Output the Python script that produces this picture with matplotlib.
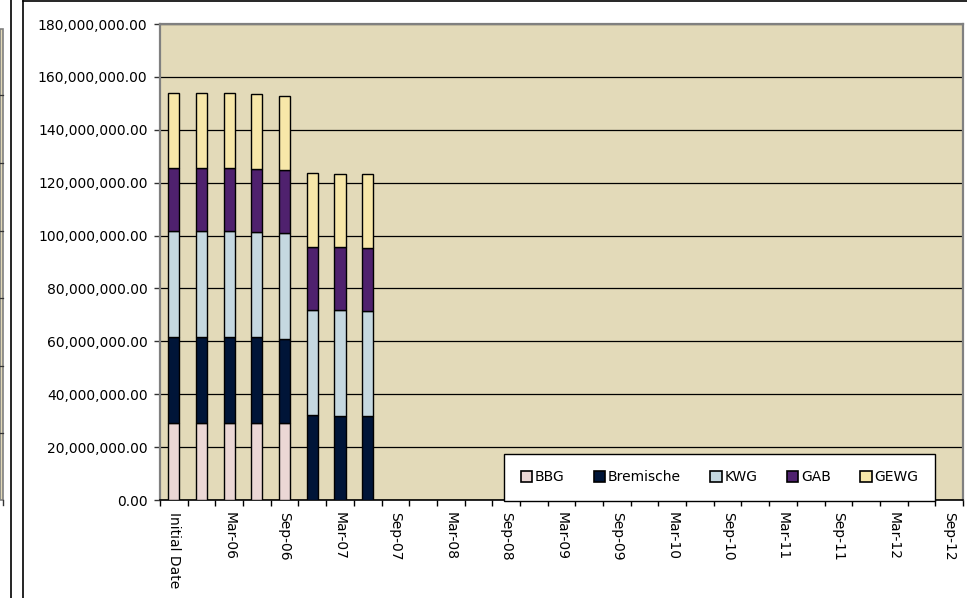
import matplotlib
matplotlib.use("Agg")
import matplotlib.pyplot as plt
from matplotlib.patches import Rectangle
from matplotlib.lines import Line2D
from matplotlib.ticker import FuncFormatter, FixedLocator
import numpy as np

plt.rcParams['font.family'] = ['DejaVu Sans']

categories = ["Initial Date", "Dec-05", "Mar-06", "Jun-06", "Sep-06", "Dec-06",
              "Mar-07", "Jun-07", "Sep-07", "Dec-07", "Mar-08", "Jun-08", "Sep-08",
              "Dec-08", "Mar-09", "Jun-09", "Sep-09", "Dec-09", "Mar-10", "Jun-10",
              "Sep-10", "Dec-10", "Mar-11", "Jun-11", "Sep-11", "Dec-11", "Mar-12",
              "Jun-12", "Sep-12"]

series_names = ["BBG", "Bremische", "KWG", "GAB", "GEWG"]
BBG       = [29.2e6, 29.2e6, 29.2e6, 29.2e6, 29.2e6, 0.0, 0.0, 0.0]
Bremische = [32.3e6, 32.3e6, 32.3e6, 32.3e6, 31.8e6, 32.1e6, 31.8e6, 31.7e6]
KWG       = [40.2e6, 40.2e6, 40.2e6, 39.9e6, 40.1e6, 39.8e6, 39.9e6, 39.8e6]
GAB       = [24.0e6, 24.0e6, 24.0e6, 23.9e6, 23.7e6, 23.9e6, 24.0e6, 23.8e6]
GEWG      = [28.3e6, 28.3e6, 28.3e6, 28.3e6, 27.9e6, 27.8e6, 27.6e6, 27.8e6]
colors = ["#EBD7D5", "#001538", "#C5D8E0", "#4F216E", "#F7E7A9"]

W, H = 967, 598
fig = plt.figure(figsize=(W / 100, H / 100), dpi=100)
fig.patch.set_facecolor("white")

# axes placement (pixels -> fraction)
L, R, T, B = 160, 963, 24, 500
ax = fig.add_axes([L / W, 1 - B / H, (R - L) / W, (B - T) / H])
ax.set_facecolor("#E3DAB9")

n = len(categories)
x = np.arange(n)
series = [BBG, Bremische, KWG, GAB, GEWG]
bottom = np.zeros(len(BBG))
handles = []
for name, vals, c in zip(series_names, series, colors):
    v = np.array(vals)
    xs = x[:len(v)]
    bars = ax.bar(xs, v, width=0.4, bottom=bottom, color=c, edgecolor="black",
                  linewidth=1.0, zorder=3, label=name)
    bottom = bottom + v
    handles.append(bars)

ax.set_xlim(-0.5, n - 0.5)
ax.set_ylim(0, 180e6)
ax.set_yticks(np.arange(0, 180e6 + 1, 20e6))
ax.yaxis.set_major_formatter(FuncFormatter(lambda v, p: f"{v:,.2f}"))
ax.yaxis.grid(True, color="black", linewidth=0.9, zorder=1)
ax.set_axisbelow(True)

# x ticks: marks at category boundaries, labels every other category at centers
ax.xaxis.set_major_locator(FixedLocator(np.arange(-0.5, n, 1.0)))
ax.xaxis.set_major_formatter(FuncFormatter(lambda v, p: ""))
ax.xaxis.set_minor_locator(FixedLocator(x[::2]))
ax.set_xticklabels([categories[i] for i in x[::2]], minor=True, rotation=-90,
                   ha="center", va="top")
ax.tick_params(axis="x", which="major", length=4, width=1, direction="out", color="black")
ax.tick_params(axis="x", which="minor", length=0, pad=9, labelsize=10)
ax.tick_params(axis="y", length=4, width=1, direction="out", color="#333333",
               pad=5, labelsize=10)

for s in ["top", "right", "left"]:
    ax.spines[s].set_color("#808080")
    ax.spines[s].set_linewidth(1.6)
ax.spines["bottom"].set_color("black")
ax.spines["bottom"].set_linewidth(1.2)

# legend box
lx0, lx1, ly0, ly1 = 504, 935, 501, 436
leg = ax.legend(handles=handles, labels=series_names, ncol=5, loc="lower left",
                bbox_to_anchor=((lx0 - L) / (R - L), (B - ly0) / (B - T),
                                (lx1 - lx0) / (R - L), (ly0 - ly1) / (B - T)),
                mode="expand", fancybox=False, framealpha=1, edgecolor="black",
                fontsize=10, handlelength=0.8, handleheight=0.8, handletextpad=0.2,
                borderaxespad=0, borderpad=1.2, columnspacing=1.0)
leg.get_frame().set_linewidth(1.0)
leg.set_zorder(5)
for h in leg.legend_handles:
    h.set_edgecolor("black")
    h.set_linewidth(1.2)

# decorations: chart border and the sliver of the neighbouring chart
def fx(px):
    return px / W

def fy(py):
    return 1 - py / H

fig.add_artist(Line2D([fx(22.7), fx(22.7)], [fy(1), fy(598)], color="black", lw=1.2,
                      transform=fig.transFigure))
fig.add_artist(Line2D([fx(22.7), fx(967)], [fy(1), fy(1)], color="black", lw=1.2,
                      transform=fig.transFigure))
fig.add_artist(Line2D([fx(10.7), fx(10.7)], [fy(0), fy(598)], color="black", lw=1.2,
                      transform=fig.transFigure))
fig.add_artist(Rectangle((0, fy(500)), fx(3.3), fy(28.5) - fy(500), facecolor="#E3DAB9",
                         edgecolor="#808080", lw=1.2, transform=fig.transFigure))
for gy in [95.4, 163, 231, 298, 366, 433]:
    fig.add_artist(Line2D([0, fx(3.3)], [fy(gy), fy(gy)], color="#333333", lw=0.9,
                          transform=fig.transFigure))
fig.add_artist(Line2D([fx(3.3), fx(3.3)], [fy(500), fy(505)], color="#333333", lw=1,
                      transform=fig.transFigure))

fig.savefig("out.png", dpi=100)
